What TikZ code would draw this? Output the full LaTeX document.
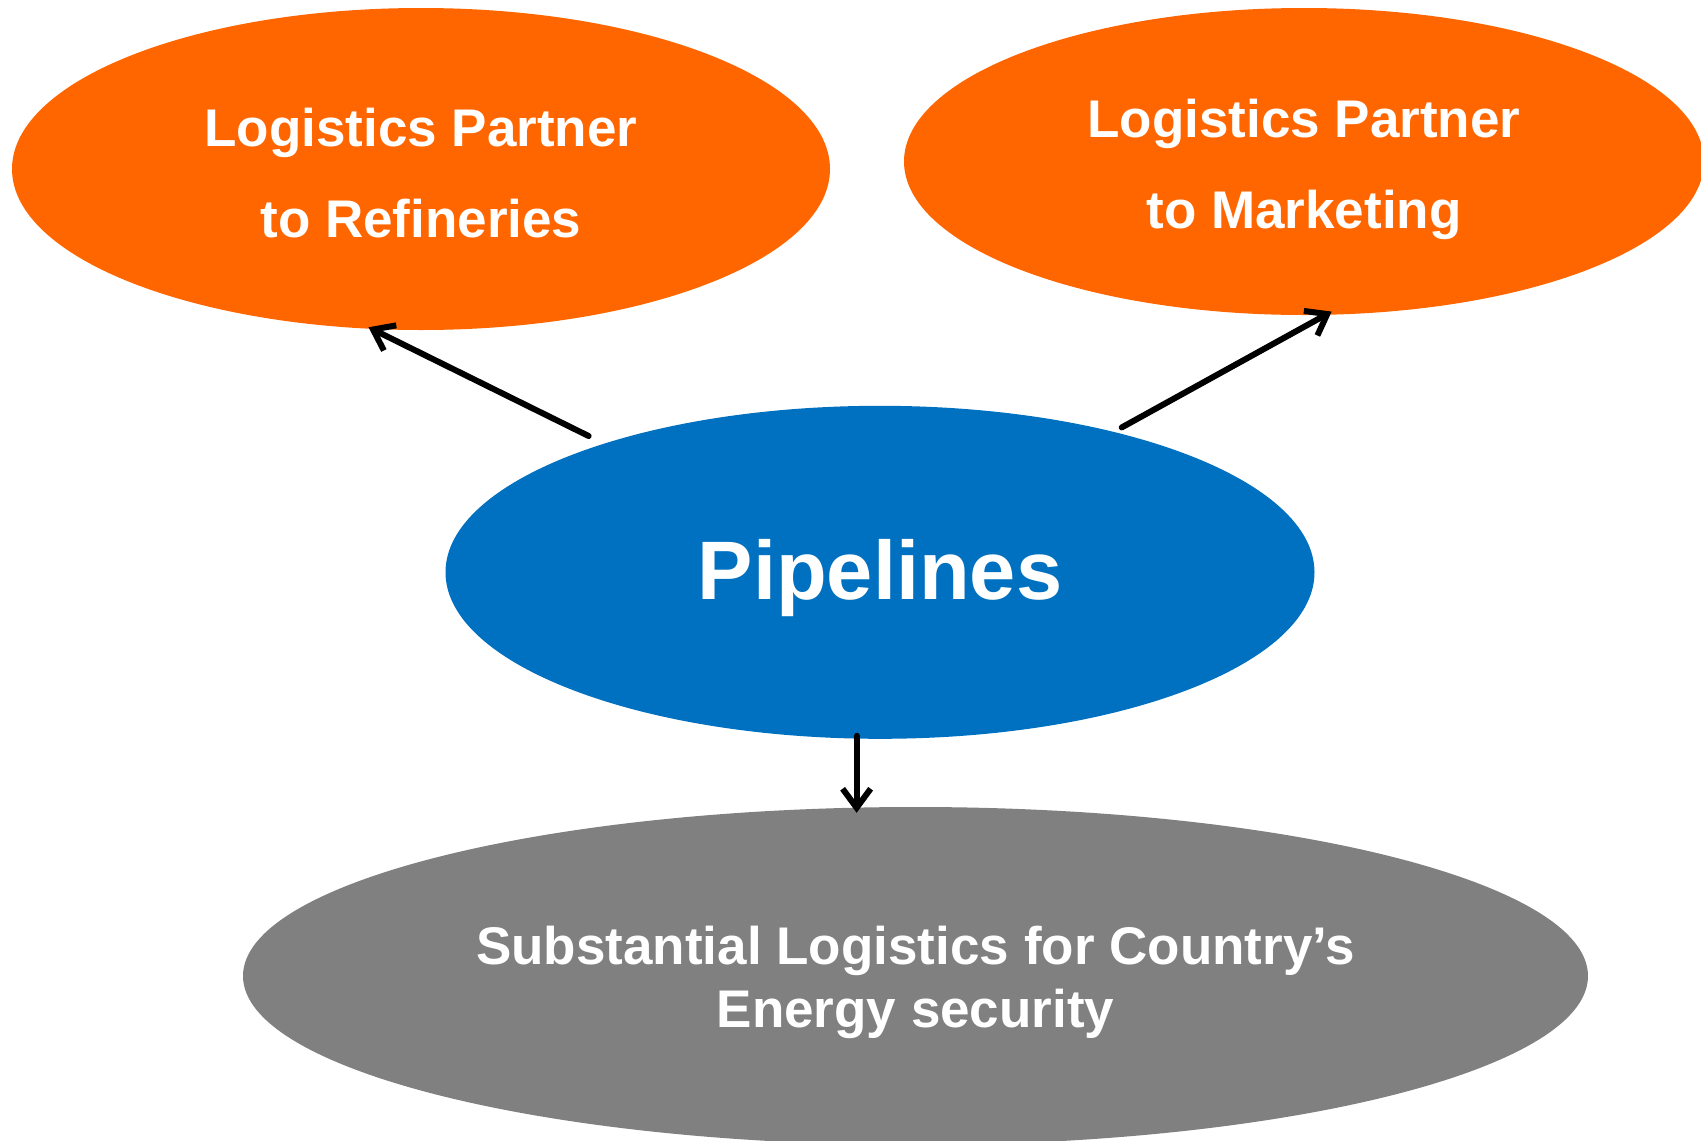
\documentclass[tikz,border=0pt]{standalone}
\usepackage{fontspec}
\setmainfont{Liberation Sans}
\usetikzlibrary{shapes.geometric,arrows.meta}
\definecolor{partnerorange}{HTML}{FF6600}
\definecolor{pipeblue}{HTML}{0070C0}
\definecolor{securgray}{HTML}{808080}

\begin{document}
\begin{tikzpicture}[x=1pt, y=-1pt,
  blob/.style={ellipse, inner sep=0pt, align=center, text=white, font=\bfseries},
  link/.style={line width=6pt, line cap=round, -{Straight Barb[length=19pt, width=28pt]}}]
\clip[use as bounding box] (0,0) rectangle (1701,1141);
% the four ellipses
\node[blob, fill=partnerorange, minimum width=818pt, minimum height=322pt,
      font=\bfseries\fontsize{53}{91}\selectfont] (refin) at (421,169)
      {\rule{0pt}{46pt}Logistics Partner\\to Refineries};
\node[blob, fill=partnerorange, minimum width=800pt, minimum height=307pt,
      font=\bfseries\fontsize{53}{91}\selectfont] (market) at (1304,161.5)
      {\rule{0pt}{54pt}Logistics Partner\\to Marketing};
\node[blob, fill=pipeblue, minimum width=869pt, minimum height=333pt,
      font=\bfseries\fontsize{83}{96}\selectfont, text height=71pt, text depth=17pt] (pipe) at (880,572.3)
      {Pipelines};
\node[blob, fill=securgray, minimum width=1345pt, minimum height=338pt,
      font=\bfseries\fontsize{53}{63}\selectfont] (secur) at (915.5,976)
      {\rule{0pt}{52pt}Substantial Logistics for Country’s\\Energy security};
% connectors
\draw[link, shorten <=17pt, shorten >=-4pt] (pipe.155) -- (refin.253.2);
\draw[link, shorten <=9pt, shorten >=-7pt] (pipe.31.5) -- (market.278.3);
\draw[link, shorten <=-3pt, shorten >=-6pt] (pipe.262.3) -- (pipe.262.3 |- secur.north);
\end{tikzpicture}
\end{document}
